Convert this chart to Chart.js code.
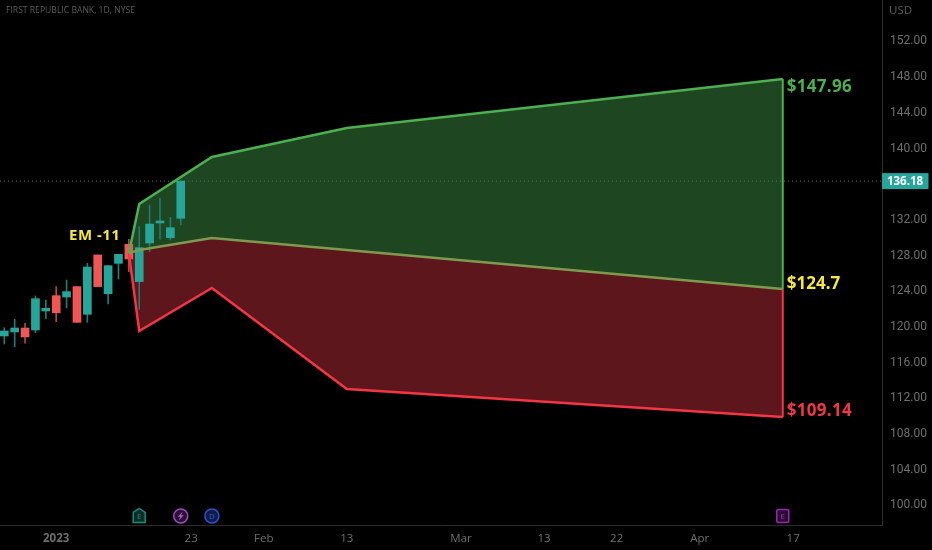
<!DOCTYPE html>
<html>
<head>
<meta charset="utf-8">
<style>
html,body{margin:0;padding:0;background:#000;overflow:hidden}
canvas{display:block}
</style>
<script src="https://cdn.jsdelivr.net/npm/chart.js@4/dist/chart.umd.min.js"></script>
</head>
<body>
<canvas id="c" width="932" height="550"></canvas>
<script>
/* FRC daily chart with expected-move band */
const barIdx = [0,1,2,3,4,5,6,7,8,9,10,11,12,13,14,15,16,17];
const openVals  = [118.82,119.27,119.71,119.49,121.62,123.34,123.19,124.35,121.25,127.90,123.56,126.96,129.09,124.91,129.24,131.49,129.84,132.01];
const closeVals = [119.38,119.71,118.71,123.00,121.92,121.43,123.79,120.35,126.55,124.35,126.70,127.97,127.45,128.72,131.37,131.71,130.96,136.18];
const highVals  = [119.75,120.69,120.24,123.30,122.85,124.35,125.10,124.35,126.96,127.90,126.70,127.97,129.66,131.08,133.50,134.25,132.12,136.18];
const lowVals   = [117.92,117.62,118.00,119.19,120.76,120.42,121.96,120.35,120.35,124.35,122.41,125.21,126.03,121.81,128.27,129.66,129.58,131.26];

const bandX     = [12,13,20,33,75];
const upperBand = [128.1,133.61,138.88,142.13,147.63];
const midBand   = [128.1,128.46,129.80,128.45,124.09];
const lowerBand = [128.1,119.38,124.20,112.88,109.74];

const lastPrice = 136.18;
const yTicks = [100,104,108,112,116,120,124,128,132,136,140,144,148,152];
const xTickIdx = [5,18,25,33,44,52,59,67,76];
const xTickLabels = ['2023','23','Feb','13','Mar','13','22','Apr','17'];

const X_MIN = -0.414, X_MAX = 84.56, Y_MIN = 97.63, Y_MAX = 156.48;
const TEAL = '#26a69a', RED = '#f05656', GREEN_LINE = '#4caf50', RED_LINE = '#f23645', AXIS = '#2b2b2b', TXT = '#6e6e6e';
const FONT = '"Open Sans", sans-serif';

function pts(xs, ys){ return xs.map((x,i)=>({x:x, y:ys[i]})); }
function candleColor(ctx){ const i = ctx.dataIndex; return closeVals[i] >= openVals[i] ? TEAL : RED; }
function wickColor(ctx){ const i = ctx.dataIndex; return closeVals[i] >= openVals[i] ? '#1c7d74' : '#b84646'; }

function txt(c, s, x, y, font, color, align, spacing){
  c.font = font; c.fillStyle = color; c.textAlign = align || 'left'; c.textBaseline = 'middle';
  c.letterSpacing = spacing || '0px';
  c.fillText(s, x, y);
  c.letterSpacing = '0px';
}

const overlay = {
  id:'overlay',
  afterDraw(chart){
    const c = chart.ctx, xs = chart.scales.x, ys = chart.scales.y;
    c.save();
    txt(c,'FIRST REPUBLIC BANK, 1D, NYSE',6,11,'8.6px '+FONT,'#5c5c5c');
    txt(c,'USD',889,11,'11.5px '+FONT,'#5c5c5c');
    txt(c,'EM -11',69,235.5,'bold 15px '+FONT,'#f5e642','left','0.5px');
    const lx = xs.getPixelForValue(75)+4;
    txt(c,'$147.96',lx,87,'bold 17px '+FONT,'#4caf50','left','0.3px');
    txt(c,'$124.7',lx,284,'bold 17px '+FONT,'#f5e642');
    txt(c,'$109.14',lx,411,'bold 17px '+FONT,'#f23645','left','0.3px');

    // last price tag
    const py = ys.getPixelForValue(lastPrice);
    c.fillStyle = TEAL;
    c.fillRect(882,py-8,46.5,16);
    txt(c,lastPrice.toFixed(2),905,py+0.5,'bold 11.5px '+FONT,'#fff','center');

    // event icons on the time axis
    const iy = 516;
    const ex = xs.getPixelForValue(13);
    c.lineWidth = 1.5; c.strokeStyle = '#1c8a7c'; c.fillStyle = '#0b2b27';
    c.beginPath(); c.moveTo(ex,iy-7.5); c.lineTo(ex+6,iy-3.5); c.lineTo(ex+6,iy+6.5); c.lineTo(ex-6,iy+6.5); c.lineTo(ex-6,iy-3.5); c.closePath(); c.fill(); c.stroke();
    txt(c,'E',ex,iy+0.5,'8px '+FONT,'#1c8a7c','center');

    const sx = xs.getPixelForValue(17);
    c.strokeStyle = '#a04cc0'; c.fillStyle = '#2a1235';
    c.beginPath(); c.arc(sx,iy,7,0,Math.PI*2); c.fill(); c.stroke();
    // lightning bolt
    c.fillStyle = '#b05ad0';
    c.beginPath(); c.moveTo(sx+2,iy-4.5); c.lineTo(sx-3,iy+0.8); c.lineTo(sx-0.3,iy+0.8); c.lineTo(sx-2,iy+4.5); c.lineTo(sx+3,iy-0.8); c.lineTo(sx+0.3,iy-0.8); c.closePath(); c.fill();

    const dx = xs.getPixelForValue(20);
    c.strokeStyle = '#2f50d0'; c.fillStyle = '#101c4a';
    c.beginPath(); c.arc(dx,iy,7,0,Math.PI*2); c.fill(); c.stroke();
    txt(c,'D',dx,iy+0.5,'8px '+FONT,'#3a5ce0','center');

    const qx = xs.getPixelForValue(75);
    c.strokeStyle = '#9c27b0'; c.fillStyle = '#2a0b33';
    c.beginPath(); c.roundRect(qx-6,iy-6.5,12,13,1.5); c.fill(); c.stroke();
    txt(c,'E',qx,iy+0.5,'8px '+FONT,'#a838c0','center');
    c.restore();
  }
};

new Chart(document.getElementById('c'), {
  type:'bar',
  plugins:[overlay],
  data:{
    datasets:[
      {type:'line', order:1, data:pts(bandX,upperBand), borderColor:GREEN_LINE, borderWidth:2.5, pointRadius:0, tension:0,
       fill:'+1', backgroundColor:'#1e4620'},
      {type:'line', order:1, data:pts(bandX,midBand), borderColor:'#7f9a50', borderWidth:2.5, pointRadius:0, tension:0,
       fill:'+1', backgroundColor:'#5c161c'},
      {type:'line', order:1, data:pts(bandX,lowerBand), borderColor:RED_LINE, borderWidth:2.5, pointRadius:0, tension:0, fill:false},
      // right edge of the band
      {type:'line', order:1, data:pts([75,75],[upperBand[4],midBand[4]]), borderColor:GREEN_LINE, borderWidth:2, pointRadius:0, fill:false},
      {type:'line', order:1, data:pts([75,75],[midBand[4],lowerBand[4]]), borderColor:RED_LINE, borderWidth:2, pointRadius:0, fill:false},
      // last price line
      {type:'line', order:4, data:pts([X_MIN,X_MAX],[lastPrice,lastPrice]), borderColor:'#4f6f6b', borderWidth:1, borderDash:[1,3], pointRadius:0, fill:false},
      // wicks then bodies
      {order:3, grouped:false, barThickness:1, data:barIdx.map((x,i)=>({x:x, y:[lowVals[i],highVals[i]]})), backgroundColor:wickColor},
      {order:2, grouped:false, barThickness:8, data:barIdx.map((x,i)=>({x:x, y:[openVals[i],closeVals[i]]})), backgroundColor:candleColor}
    ]
  },
  options:{
    responsive:false,
    animation:false,
    devicePixelRatio:1,
    layout:{padding:0},
    plugins:{legend:{display:false}, tooltip:{enabled:false}, filler:{drawTime:'beforeDatasetsDraw', propagate:false}},
    scales:{
      x:{
        type:'linear', position:'bottom', min:X_MIN, max:X_MAX, offset:false,
        grid:{display:false, offset:false, drawTicks:false},
        border:{display:true, color:AXIS},
        afterFit(s){ s.height = 25; s.paddingLeft = 0; s.paddingRight = 0; },
        afterBuildTicks(s){ s.ticks = xTickIdx.map(v=>({value:v})); },
        ticks:{
          autoSkip:false, maxRotation:0, padding:7, color:TXT,
          font:ctx=>({family:'"Open Sans", sans-serif', size:11.5, weight:ctx.index===0?'bold':'normal'}),
          callback:(v,i)=>xTickLabels[i]
        }
      },
      y:{
        type:'linear', position:'right', min:Y_MIN, max:Y_MAX,
        grid:{display:false, drawTicks:false},
        border:{display:true, color:AXIS},
        afterFit(s){ s.width = 50; s.paddingTop = 0; s.paddingBottom = 0; },
        afterBuildTicks(s){ s.ticks = yTicks.map(v=>({value:v})); },
        ticks:{
          autoSkip:false, padding:8, color:TXT, labelOffset:1.5,
          font:{family:'Roboto, sans-serif', size:12},
          callback:v=>v.toFixed(2)
        }
      }
    }
  }
});
</script>
</body>
</html>
